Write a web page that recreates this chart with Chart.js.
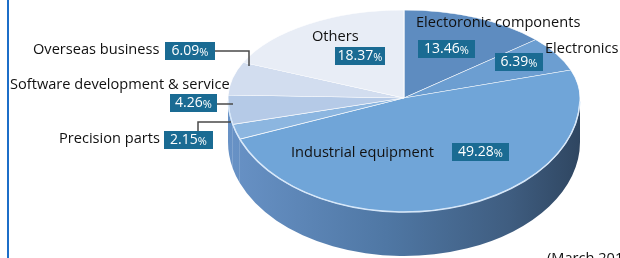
<!DOCTYPE html>
<html>
<head>
<meta charset="utf-8">
<script src="https://cdn.jsdelivr.net/npm/chart.js@4/dist/chart.umd.min.js"></script>
<style>
  html, body { margin: 0; padding: 0; background: #fff; }
  .wrap { width: 620px; height: 258px; overflow: hidden; position: relative; }
</style>
</head>
<body>
<div class="wrap"><canvas id="salesPie" width="620" height="360"></canvas></div>
<script>
  // data
  const categories = ['Electoronic components', 'Electronics', 'Industrial equipment', 'Precision parts',
    'Software development & service', 'Overseas business', 'Others'];
  const shares = [13.46, 6.39, 49.28, 2.15, 4.26, 6.09, 18.37];
  const sliceColors = ['#5e8cc0', '#6c9ed1', '#70a5d8', '#8cb6e0', '#b5cae7', '#d2ddef', '#e8edf6'];
  const note = '(March 2019)';

  // label placement: [textX, textY, boxX, boxY, boxW, boxH]
  const labelLayout = [
    [416, 23, 418, 40, 57, 18],
    [545, 49, 495, 53, 48, 18],
    [291, 153, 452, 143, 57, 18],
    [59, 139, 164, 131, 49, 18],
    [10, 85, 170, 94, 47, 18],
    [33, 50, 165, 42, 50, 18],
    [312, 37, 335, 47, 50, 18]
  ];
  const connectors = [
    [[215, 51], [249, 51], [249, 66]],
    [[217, 104], [233, 104]],
    [[198, 131], [198, 122], [231, 122]]
  ];

  // ellipse geometry of the top face
  const ex = 404, ey = 98, rx = 176, ryTop = 88, ryBot = 114, depth = 44;

  function applyHalf(ctx, arc, ry) {
    ctx.translate(ex, ey);
    ctx.scale(rx / arc.outerRadius, ry / arc.outerRadius);
    ctx.translate(-arc.x, -arc.y);
  }

  const pie3d = {
    id: 'pie3d',
    beforeDatasetsDraw(chart) {
      const ctx = chart.ctx;
      const arcs = chart.getDatasetMeta(0).data;
      const grad = ctx.createLinearGradient(ex - rx, 0, ex + rx, 0);
      grad.addColorStop(0, '#6892c6');
      grad.addColorStop(0.45, '#4f77a4');
      grad.addColorStop(0.8, '#3f5d80');
      grad.addColorStop(1, '#2f4661');
      // side wall, one piece per visible slice
      arcs.forEach(function (arc) {
        const a1 = Math.max(arc.startAngle, 0);
        const a2 = Math.min(arc.endAngle, Math.PI);
        if (a1 >= a2) return;
        ctx.beginPath();
        ctx.ellipse(ex, ey, rx, ryBot, 0, a1, a2);
        ctx.ellipse(ex, ey + depth, rx, ryBot, 0, a2, a1, true);
        ctx.closePath();
        ctx.fillStyle = grad;
        ctx.fill();
      });
      // top face, far half
      ctx.save();
      ctx.beginPath();
      ctx.rect(0, 0, 620, ey);
      ctx.clip();
      applyHalf(ctx, arcs[0], ryTop);
    },
    afterDatasetsDraw(chart) {
      const ctx = chart.ctx;
      const meta = chart.getDatasetMeta(0);
      ctx.restore();
      // top face, near half
      ctx.save();
      ctx.beginPath();
      ctx.rect(0, ey, 620, 400);
      ctx.clip();
      applyHalf(ctx, meta.data[0], ryBot);
      meta.controller.draw();
      ctx.restore();
      // rim highlight
      ctx.save();
      ctx.beginPath();
      ctx.ellipse(ex, ey, rx, ryBot, 0, 0.03, Math.PI - 0.03);
      ctx.strokeStyle = 'rgba(215,232,250,0.95)';
      ctx.lineWidth = 1.5;
      ctx.stroke();
      ctx.restore();
    },
    afterDraw(chart) {
      const ctx = chart.ctx;
      ctx.save();
      // left rule
      ctx.fillStyle = '#1c6ec8';
      ctx.fillRect(7, 0, 2, 258);
      // leader lines
      ctx.strokeStyle = '#4a4a4a';
      ctx.lineWidth = 1.5;
      connectors.forEach(function (pts) {
        ctx.beginPath();
        pts.forEach(function (p, i) { i ? ctx.lineTo(p[0], p[1]) : ctx.moveTo(p[0], p[1]); });
        ctx.stroke();
      });
      ctx.textBaseline = 'middle';
      categories.forEach(function (name, i) {
        const l = labelLayout[i];
        ctx.fillStyle = '#111';
        ctx.font = '14.6px "Open Sans"';
        ctx.textAlign = 'left';
        ctx.fillText(name, l[0], l[1]);
        ctx.fillStyle = '#1a6b93';
        ctx.fillRect(l[2], l[3], l[4], l[5]);
        const num = shares[i].toFixed(2);
        ctx.font = '14px "Open Sans"';
        const w1 = ctx.measureText(num).width;
        ctx.font = '11px "Open Sans"';
        const w2 = ctx.measureText('%').width;
        let x = l[2] + (l[4] - w1 - w2) / 2;
        const y = l[3] + l[5] / 2 + 0.5;
        ctx.fillStyle = '#ffffff';
        ctx.font = '14px "Open Sans"';
        ctx.fillText(num, x, y);
        ctx.font = '11px "Open Sans"';
        ctx.fillText('%', x + w1, y + 1);
      });
      ctx.fillStyle = '#111';
      ctx.font = '14.6px "Open Sans"';
      ctx.textBaseline = 'alphabetic';
      ctx.fillText(note, 547, 263);
      ctx.restore();
    }
  };

  new Chart(document.getElementById('salesPie'), {
    type: 'pie',
    data: {
      labels: categories,
      datasets: [{
        data: shares,
        backgroundColor: sliceColors,
        borderColor: 'rgba(255,255,255,0.85)',
        borderWidth: 1,
        hoverOffset: 0,
        clip: false
      }]
    },
    options: {
      responsive: false,
      animation: false,
      events: [],
      layout: { padding: { left: 228, right: 40, top: 0, bottom: 8 } },
      plugins: { legend: { display: false }, tooltip: { enabled: false } }
    },
    plugins: [pie3d]
  });
</script>
</body>
</html>
